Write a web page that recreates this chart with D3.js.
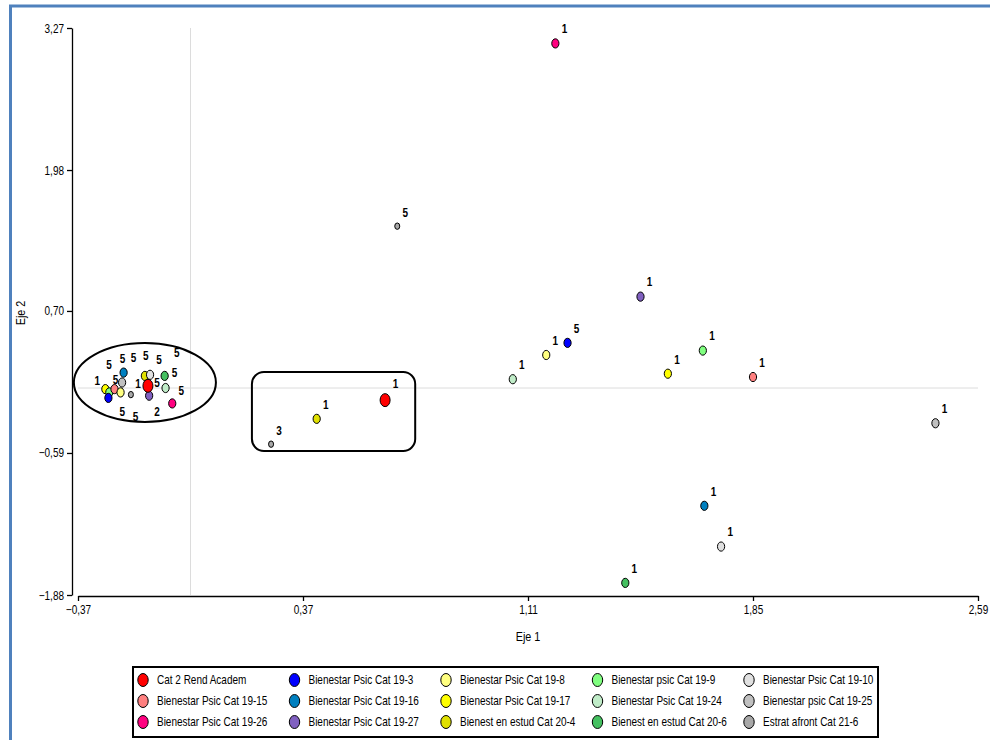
<!DOCTYPE html>
<html>
<head>
<meta charset="utf-8">
<script src="https://cdn.jsdelivr.net/npm/d3@7"></script>
<style>
  html, body { margin: 0; padding: 0; background: #fff; }
  svg { display: block; }
  text { font-family: "Liberation Sans", Arial, sans-serif; }
</style>
</head>
<body>
<svg id="chart" width="990" height="740"></svg>
<script>
// Series shown in the legend (row by row, five per row)
const categories = [
  "Cat 2 Rend Academ", "Bienestar Psic Cat 19-3", "Bienestar Psic Cat 19-8", "Bienestar psic Cat 19-9", "Bienestar Psic Cat 19-10",
  "Bienestar Psic Cat 19-15", "Bienestar Psic Cat 19-16", "Bienestar Psic Cat 19-17", "Bienestar Psic Cat 19-24", "Bienestar psic Cat 19-25",
  "Bienestar Psic Cat 19-26", "Bienestar Psic Cat 19-27", "Bienest en estud Cat 20-4", "Bienest en estud Cat 20-6", "Estrat afront Cat 21-6"
];
const palette = [
  "#ff0000", "#0000ff", "#ffff80", "#80ff80", "#e0e0e0",
  "#ff8080", "#0080c0", "#ffff00", "#c0ecc8", "#c0c0c0",
  "#ff0080", "#8060c0", "#e0e000", "#44c060", "#a8a8a8"
];

// Points: series index, coordinates on Eje 1 / Eje 2, and the number printed next to each
const pointSeries = [10, 14, 11, 1, 2, 8, 3, 7, 5, 9, 6, 4, 13, 12, 14, 0,
                     7, 3, 1, 5, 9, 6, 2, 14, 12, 4, 11, 13, 8, 10, 0];
const pointX = [1.20, 0.68, 1.48, 1.24, 1.17, 1.06, 1.685, 1.57, 1.85, 2.45, 1.69, 1.745, 1.43, 0.415, 0.265, 0.64,
                -0.28, -0.267, -0.27, -0.25, -0.225, -0.22, -0.23, -0.196, -0.15, -0.133, -0.136, -0.085, -0.082, -0.06, -0.14];
const pointY = [3.13, 1.47, 0.83, 0.41, 0.30, 0.08, 0.34, 0.13, 0.10, -0.32, -1.07, -1.44, -1.77, -0.28, -0.51, -0.11,
                -0.01, -0.04, -0.09, -0.01, 0.05, 0.14, -0.04, -0.06, 0.11, 0.12, -0.07, 0.11, 0.00, -0.14, 0.02];
const pointLabel = ["1", "5", "1", "5", "1", "1", "1", "1", "1", "1", "1", "1", "1", "1", "3", "1",
                    "1", "5", "5", "5", "5", "5", "5", "2", "5", "5", "5", "5", "5", "5", "1"];

// Axis ticks
const xTicks = [-0.37, 0.37, 1.11, 1.85, 2.59];
const yTicks = [-1.88, -0.59, 0.70, 1.98, 3.27];

// Highlighted groups: an ellipse around the crowded group and a rounded box
const clusterEllipse = { cx: -0.150, cy: 0.050, rx: 0.2336, ry: 0.359 };
const groupBox = { x0: 0.202, x1: 0.739, y0: -0.572, y1: 0.146 };

// Label placement inside the crowded group (pixel nudges, by point index)
const labelNudge = {
  16: [-8, -9], 17: [13, 19], 18: [27, 19], 19: [1, -10], 20: [-13, -18], 21: [-1, -14],
  22: [13, -35], 23: [26, 17], 24: [1, -20], 25: [9, -15], 26: [8, -13], 27: [12, -23],
  28: [9, -15], 29: [9, -13], 30: [-10, -2]
};

const NARROW = 0.8;   // horizontal squeeze giving a condensed sans look
const svg = d3.select("#chart");
const fmt = v => d3.format(".2f")(v).replace(".", ",");

// Condensed text placed at (px, py)
function narrowText(parent, px, py, str, size, opts = {}) {
  return parent.append("text")
    .attr("transform", `translate(${px},${py}) scale(${NARROW},1)`)
    .attr("text-anchor", opts.anchor || "start")
    .attr("dominant-baseline", opts.baseline || "auto")
    .attr("font-size", size)
    .attr("font-weight", opts.weight || "normal")
    .attr("fill", "#000")
    .text(str);
}

const x = d3.scaleLinear().domain([-0.37, 2.59]).range([78, 978]);
const y = d3.scaleLinear().domain([-1.88, 3.27]).range([595, 28]);

// Outer frame
svg.append("rect")
  .attr("x", 10.5).attr("y", 6).attr("width", 1100).attr("height", 900)
  .attr("fill", "none").attr("stroke", "#4f81bd").attr("stroke-width", 3);

// Zero lines
svg.append("line")
  .attr("x1", x(0)).attr("x2", x(0)).attr("y1", y(3.27)).attr("y2", y(-1.88))
  .attr("stroke", "#dcdcdc").attr("stroke-width", 1);
svg.append("line")
  .attr("x1", x(-0.37)).attr("x2", x(2.59)).attr("y1", y(0)).attr("y2", y(0))
  .attr("stroke", "#dcdcdc").attr("stroke-width", 1);

// Axes
const yAxis = svg.append("g").attr("transform", "translate(72,0)")
  .call(d3.axisLeft(y).tickValues(yTicks).tickFormat(fmt).tickSize(5).tickSizeOuter(0).tickPadding(3));
const xAxis = svg.append("g").attr("transform", "translate(0,596)")
  .call(d3.axisBottom(x).tickValues(xTicks).tickFormat(fmt).tickSize(5).tickSizeOuter(0).tickPadding(4));
[xAxis, yAxis].forEach(g => {
  g.selectAll("path, line").attr("stroke", "#000").attr("stroke-width", 1.3);
  g.selectAll("text").attr("font-size", 12.5).attr("fill", "#000")
    .attr("font-family", "'Liberation Sans', Arial, sans-serif")
    .each(function () {
      const t = d3.select(this);
      const tx = +t.attr("x") || 0;
      t.attr("x", 0).attr("transform", `translate(${tx},0) scale(${NARROW},1)`);
    });
});

narrowText(svg, 528, 641, "Eje 1", 13.5, { anchor: "middle" });
svg.append("text").attr("transform", `translate(25,313) rotate(-90) scale(${NARROW},1)`)
  .attr("text-anchor", "middle").attr("font-size", 13.5).attr("fill", "#000").text("Eje 2");

// Group highlights
svg.append("ellipse")
  .attr("cx", x(clusterEllipse.cx)).attr("cy", y(clusterEllipse.cy))
  .attr("rx", x(clusterEllipse.cx + clusterEllipse.rx) - x(clusterEllipse.cx))
  .attr("ry", y(clusterEllipse.cy - clusterEllipse.ry) - y(clusterEllipse.cy))
  .attr("fill", "none").attr("stroke", "#000").attr("stroke-width", 2);
svg.append("rect")
  .attr("x", x(groupBox.x0)).attr("y", y(groupBox.y1))
  .attr("width", x(groupBox.x1) - x(groupBox.x0)).attr("height", y(groupBox.y0) - y(groupBox.y1))
  .attr("rx", 12).attr("ry", 12)
  .attr("fill", "none").attr("stroke", "#000").attr("stroke-width", 2);

// Marker size per series: the academic category is larger, coping strategies smaller
const markerR = s => s === 0 ? [5, 6.5] : s === 14 ? [2.5, 3.2] : [3.6, 4.6];

const pts = pointSeries.map((s, i) => ({ i, s, x: pointX[i], y: pointY[i], label: pointLabel[i] }));

// Value labels
const labelLayer = svg.append("g");
pts.forEach(d => {
  const n = labelNudge[d.i];
  const r = markerR(d.s);
  const lx = x(d.x) + (n ? n[0] : r[0] + 5.5);
  const ly = y(d.y) + (n ? n[1] : -(r[1] + 10));
  narrowText(labelLayer, lx, ly, d.label, 12.5, { anchor: "middle", baseline: "central", weight: "bold" });
});

// Markers (academic category on top)
const ordered = pts.filter(d => d.s !== 0).concat(pts.filter(d => d.s === 0));
svg.append("g").selectAll("ellipse").data(ordered).join("ellipse")
  .attr("cx", d => x(d.x)).attr("cy", d => y(d.y))
  .attr("rx", d => markerR(d.s)[0]).attr("ry", d => markerR(d.s)[1])
  .attr("fill", d => palette[d.s]).attr("stroke", "#000").attr("stroke-width", 1);

// Legend
const legend = svg.append("g");
legend.append("rect").attr("x", 133).attr("y", 667).attr("width", 745).attr("height", 70)
  .attr("fill", "#fff").attr("stroke", "#000").attr("stroke-width", 2);
categories.forEach((name, i) => {
  const lx = 143 + (i % 5) * 151.5;
  const ly = 680 + Math.floor(i / 5) * 21;
  legend.append("ellipse").attr("cx", lx).attr("cy", ly).attr("rx", 5.2).attr("ry", 6.5)
    .attr("fill", palette[i]).attr("stroke", "#000").attr("stroke-width", 1);
  narrowText(legend, lx + 14, ly, name, 12.5, { baseline: "central" });
});
</script>
</body>
</html>
